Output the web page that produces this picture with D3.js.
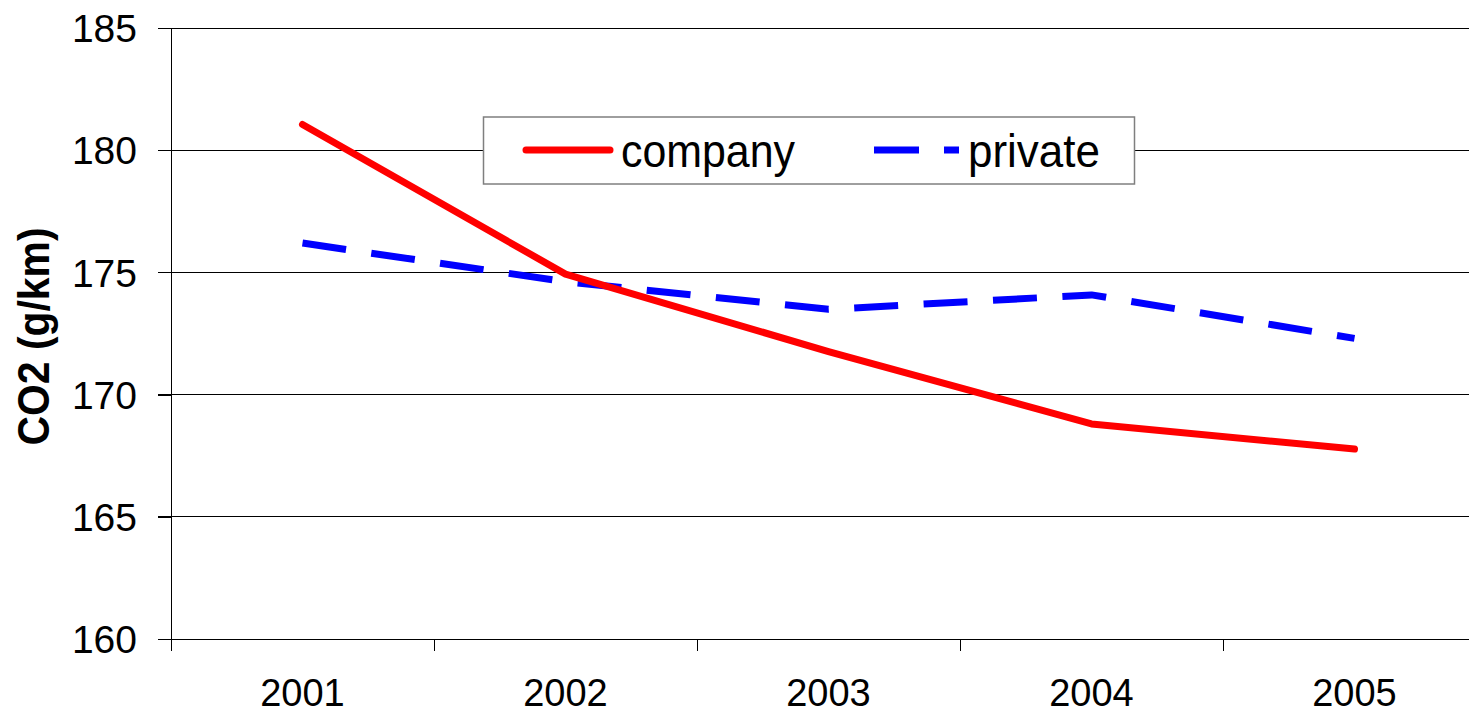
<!DOCTYPE html>
<html>
<head>
<meta charset="utf-8">
<script src="https://cdn.jsdelivr.net/npm/d3@7"></script>
<style>
  html, body { margin: 0; padding: 0; background: #fff; }
  svg { display: block; font-family: "Liberation Sans", Arial, sans-serif; }
</style>
</head>
<body>
<svg id="chart" width="1469" height="715"></svg>
<script>
// Average CO2 emissions of new cars by ownership
const years = ["2001", "2002", "2003", "2004", "2005"];
const company = [181.05, 174.93, 171.76, 168.8, 167.77];
const privateCars = [176.2, 174.62, 173.49, 174.08, 172.3];
const yTicks = [160, 165, 170, 175, 180, 185];
const seriesNames = ["company", "private"];
const yTitle = "CO2 (g/km)";

const svg = d3.select("#chart");

const plot = { left: 171, right: 1486, top: 28, bottom: 639 };

const x = d3.scaleBand().domain(years).range([plot.left, plot.right]).padding(0);
const y = d3.scaleLinear().domain([160, 185]).range([plot.bottom, plot.top]);
const cx = d => x(d) + x.bandwidth() / 2;

// Horizontal gridlines
svg.append("g")
  .selectAll("line")
  .data(yTicks)
  .join("line")
  .attr("x1", plot.left - 13)
  .attr("x2", plot.right)
  .attr("y1", d => y(d))
  .attr("y2", d => y(d))
  .attr("stroke", "#000")
  .attr("stroke-width", 1)
  .attr("shape-rendering", "crispEdges");

// Y axis with labels
const yAxis = d3.axisLeft(y)
  .tickValues(yTicks)
  .tickSize(13)
  .tickPadding(21)
  .tickFormat(d3.format("d"));

const gy = svg.append("g")
  .attr("transform", `translate(${plot.left},0)`)
  .call(yAxis);
gy.select(".domain").remove();
gy.selectAll(".tick line").attr("stroke", "#000").attr("shape-rendering", "crispEdges");
gy.selectAll(".tick text")
  .attr("font-size", 39)
  .attr("fill", "#000")
  .attr("font-family", "Liberation Sans, Arial, sans-serif")
  .attr("dy", "0.35em");

// Vertical axis line
svg.append("line")
  .attr("x1", plot.left).attr("x2", plot.left)
  .attr("y1", plot.top).attr("y2", plot.bottom + 12)
  .attr("stroke", "#000")
  .attr("stroke-width", 1)
  .attr("shape-rendering", "crispEdges");

// Category boundary ticks on the x axis
const boundaries = years.map(d => x(d)).concat([plot.right]);
svg.append("g")
  .selectAll("line")
  .data(boundaries)
  .join("line")
  .attr("x1", d => d).attr("x2", d => d)
  .attr("y1", plot.bottom).attr("y2", plot.bottom + 12)
  .attr("stroke", "#000")
  .attr("stroke-width", 1)
  .attr("shape-rendering", "crispEdges");

// Category labels
svg.append("g")
  .selectAll("text")
  .data(years)
  .join("text")
  .attr("x", d => cx(d))
  .attr("y", 706)
  .attr("text-anchor", "middle")
  .attr("font-size", 38)
  .attr("fill", "#000")
  .text(d => d);

// Y axis title
svg.append("text")
  .attr("transform", "translate(49,336.5) rotate(-90)")
  .attr("text-anchor", "middle")
  .attr("font-size", 44)
  .attr("font-weight", "bold")
  .attr("fill", "#000")
  .attr("textLength", 218)
  .attr("lengthAdjust", "spacingAndGlyphs")
  .text(yTitle);

// Series lines
const line = d3.line()
  .x(d => cx(d.year))
  .y(d => y(d.value));

const companyData = years.map((yr, i) => ({ year: yr, value: company[i] }));
const privateData = years.map((yr, i) => ({ year: yr, value: privateCars[i] }));

svg.append("path")
  .datum(privateData)
  .attr("d", line)
  .attr("fill", "none")
  .attr("stroke", "#0000ff")
  .attr("stroke-width", 7)
  .attr("stroke-dasharray", "44,25.5")
  .attr("stroke-linejoin", "round");

svg.append("path")
  .datum(companyData)
  .attr("d", line)
  .attr("fill", "none")
  .attr("stroke", "#ff0000")
  .attr("stroke-width", 7)
  .attr("stroke-linecap", "round")
  .attr("stroke-linejoin", "round");

// Legend
const legend = svg.append("g");
legend.append("rect")
  .attr("x", 483.5).attr("y", 117)
  .attr("width", 651).attr("height", 67)
  .attr("fill", "#fff")
  .attr("stroke", "#7f7f7f")
  .attr("stroke-width", 1.5);

legend.append("line")
  .attr("x1", 526).attr("x2", 610)
  .attr("y1", 150).attr("y2", 150)
  .attr("stroke", "#ff0000")
  .attr("stroke-width", 7)
  .attr("stroke-linecap", "round");

legend.append("line")
  .attr("x1", 874).attr("x2", 959)
  .attr("y1", 150).attr("y2", 150)
  .attr("stroke", "#0000ff")
  .attr("stroke-width", 7)
  .attr("stroke-dasharray", "45,25");

legend.append("text")
  .attr("x", 621).attr("y", 167)
  .attr("font-size", 46)
  .attr("fill", "#000")
  .attr("textLength", 174)
  .attr("lengthAdjust", "spacingAndGlyphs")
  .text(seriesNames[0]);

legend.append("text")
  .attr("x", 968).attr("y", 167)
  .attr("font-size", 46)
  .attr("fill", "#000")
  .attr("textLength", 132)
  .attr("lengthAdjust", "spacingAndGlyphs")
  .text(seriesNames[1]);
</script>
</body>
</html>
